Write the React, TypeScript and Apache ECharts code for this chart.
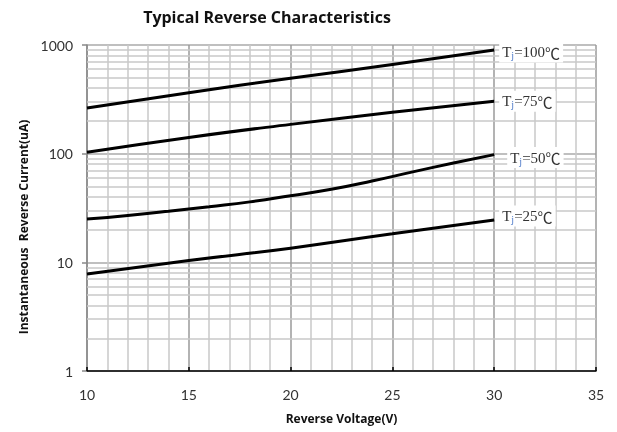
import React, { useEffect, useRef } from "react";
import * as echarts from "echarts";

const titleText = "Typical Reverse Characteristics";
const xName = "Reverse Voltage(V)";
const yName = "Instantaneous  Reverse Current(uA)";

const x100 = [10, 15, 20, 25, 30];
const y100 = [263, 363, 495, 660, 899];
const x75 = [10, 15, 20, 25, 30];
const y75 = [103, 141, 186, 240, 303];
const x50 = [10, 12, 14, 16, 18, 20, 22, 24, 26, 28, 30];
const y50 = [25, 27, 29.5, 32.5, 36, 41, 47, 56, 68, 82, 98];
const x25 = [10, 15, 20, 25, 30];
const y25 = [7.8, 10.4, 13.5, 18.3, 24.5];

const seriesTemps = ["100", "75", "50", "25"];
const minorGridValues = [
  2, 3, 4, 5, 6, 7, 8, 9,
  20, 30, 40, 50, 60, 70, 80, 90,
  200, 300, 400, 500, 600, 700, 800, 900,
];

const pairs = (xs: number[], ys: number[]) => xs.map((x, i) => [x, ys[i]]);

export default function App() {
  const ref = useRef<HTMLDivElement>(null);
  useEffect(() => {
    if (!ref.current) return;
    const chart = echarts.init(ref.current, null, { renderer: "svg" });
    const labelFont = "'Liberation Serif', 'DejaVu Serif', serif";
    const boldFont = "'Open Sans', Lato, sans-serif";
    const endLabel = (temp: string, offset: number[]) => ({
      show: true,
      formatter: () => `{t|T}{s|j}{t|=${temp}}{c|℃}`,
      distance: 5,
      offset,
      backgroundColor: "#ffffff",
      padding: [2, 3, 2, 3],
      rich: {
        t: { fontFamily: labelFont, fontSize: 15, color: "#333", verticalAlign: "middle" },
        s: { fontFamily: labelFont, fontSize: 10, color: "#4a78c8", verticalAlign: "bottom", padding: [7, 0, 0, 0] },
        c: { fontFamily: "'Noto Sans CJK SC', sans-serif", fontSize: 15, color: "#333", verticalAlign: "middle" },
      },
    });
    const curve = (name: string, data: number[][], offset: number[]) => ({
      name,
      type: "line",
      data,
      smooth: true,
      symbol: "none",
      z: 5,
      lineStyle: { color: "#000", width: 3 },
      endLabel: endLabel(name, offset),
    });
    chart.setOption({
      animation: false,
      title: {
        text: titleText,
        left: 262,
        textAlign: "center",
        top: 4,
        textStyle: { fontFamily: boldFont, fontSize: 16, fontWeight: "bold", color: "#111" },
      },
      grid: { left: 87, right: 21, top: 45, bottom: 61 },
      xAxis: {
        type: "value",
        min: 10,
        max: 35,
        interval: 5,
        name: xName,
        nameLocation: "middle",
        nameGap: 41,
        nameTextStyle: { fontFamily: boldFont, fontSize: 12, fontWeight: "bold", color: "#111" },
        axisLine: { show: true, lineStyle: { color: "#000", width: 1.5 } },
        axisTick: { show: true, inside: true, length: 4, lineStyle: { color: "#000", width: 1.5 } },
        axisLabel: { margin: 16, fontFamily: "Lato, sans-serif", fontSize: 14, color: "#333" },
        splitLine: { show: true, lineStyle: { color: "#9a9a9a", width: 1.5 } },
        minorTick: { show: false, splitNumber: 5 },
        minorSplitLine: { show: true, lineStyle: { color: "#c8c8c8", width: 1.5 } },
      },
      yAxis: {
        type: "log",
        logBase: 10,
        min: 1,
        max: 1000,
        name: yName,
        nameLocation: "middle",
        nameGap: 58,
        nameRotate: 90,
        nameTextStyle: {
          fontFamily: boldFont,
          fontSize: 12,
          fontWeight: "bold",
          color: "#111",
          padding: [0, 38, 0, 0],
        },
        axisLine: { show: true, lineStyle: { color: "#888", width: 1.5 } },
        axisTick: { show: true, length: 5, lineStyle: { color: "#888", width: 1.5 } },
        axisLabel: {
          margin: 14,
          fontFamily: "Lato, sans-serif",
          fontSize: 14,
          color: "#333",
          formatter: (v: number) => String(v),
        },
        splitLine: { show: true, lineStyle: { color: "#aaaaaa", width: 1.5 } },
      },
      series: [
        {
          name: "grid",
          type: "line",
          data: [],
          symbol: "none",
          z: 1,
          silent: true,
          markLine: {
            silent: true,
            symbol: "none",
            label: { show: false },
            lineStyle: { color: "#c8c8c8", width: 1.5, type: "solid" },
            data: minorGridValues.map((v) => ({ yAxis: v })),
          },
        },
        curve(seriesTemps[0], pairs(x100, y100), [0, 2]),
        curve(seriesTemps[1], pairs(x75, y75), [0, 0]),
        curve(seriesTemps[2], pairs(x50, y50), [8, 3]),
        curve(seriesTemps[3], pairs(x25, y25), [0, -4]),
      ],
    });
    return () => chart.dispose();
  }, []);
  return <div ref={ref} style={{ position: "fixed", left: 0, top: 0, width: 617, height: 432 }} />;
}
